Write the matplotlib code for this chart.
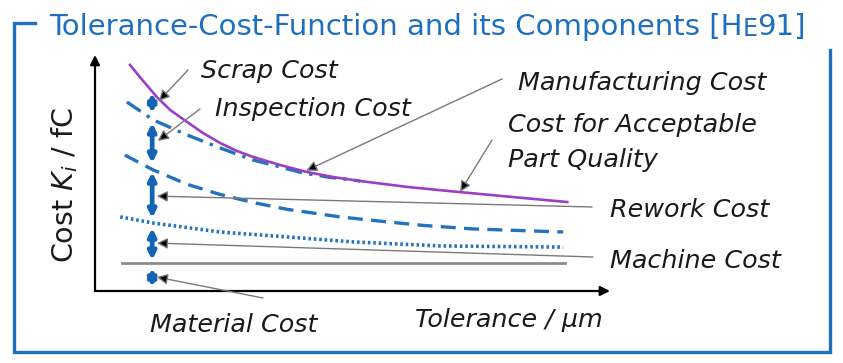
import numpy as np
import matplotlib
matplotlib.use("Agg")
import matplotlib.pyplot as plt

plt.rcParams['font.family'] = ['DejaVu Sans']
plt.rcParams['mathtext.fontset'] = 'dejavusans'

# schematic curves, tolerance (0-100) vs cost (0-100)
tol_manuf = [6.8, 8.7, 12.0, 14.6, 17.9, 21.0, 24.3, 27.6, 30.7, 35.9, 41.2,
             46.2, 51.5, 60.6, 70.9, 81.2, 91.7]
cost_manuf = [95.8, 90.7, 82.2, 76.7, 71.6, 66.9, 62.7, 59.3, 56.8, 53.4, 50.4,
              48.3, 46.6, 44.1, 41.9, 39.8, 37.7]

tol_quality = [6.2, 11.3, 17.9, 24.3, 30.7, 35.9, 40.4, 45.5, 51.5]
cost_quality = [80.1, 72.5, 66.1, 60.6, 55.5, 52.6, 50.0, 48.2, 46.6]

tol_rework = [5.8, 11.3, 17.9, 24.3, 30.7, 37.3, 47.6, 54.0, 63.7, 73.4, 90.9]
cost_rework = [57.6, 51.3, 45.2, 40.9, 37.5, 34.6, 31.4, 29.9, 27.8, 26.3, 25.0]

tol_machine = [4.9, 11.3, 24.3, 37.3, 50.1, 67.0, 90.9]
cost_machine = [31.4, 28.8, 25.0, 22.9, 20.8, 19.1, 18.6]

tol_material = [5.2, 91.3]
cost_material = [11.9, 11.9]

# component spans shown by the blue double arrows
comp_names = ['Scrap Cost', 'Inspection Cost', 'Rework Cost', 'Machine Cost', 'Material Cost']
comp_top = [83.9, 71.2, 50.4, 26.7, 9.7]
comp_bottom = [75.4, 54.2, 30.9, 13.1, 1.7]
comp_x = 11.1

BLUE = '#1f6fbf'
LINE_BLUE = '#2272bd'
ARROW_BLUE = '#1464b4'
PURPLE = '#9a3fc6'
GREY = '#7a7a7a'

fig = plt.figure(figsize=(8.43, 3.63), dpi=100)

# overlay axes in pixel units for frame and labels
ov = fig.add_axes([0, 0, 1, 1])
ov.set_xlim(0, 843)
ov.set_ylim(363, 0)
ov.axis('off')

# plot axes
W, H = 843, 363
ax = fig.add_axes([95 / W, (H - 291) / H, (610 - 95) / W, (291 - 55) / H])
ax.set_xlim(0, 100)
ax.set_ylim(0, 100)
ax.axis('off')
ax.patch.set_alpha(0)

# frame
ov.plot([35, 14, 14, 830, 830], [23, 23, 352, 352, 50], color=BLUE, lw=2.4,
        solid_joinstyle='miter')

# title with small-cap E
t1 = ov.text(49, 35, 'Tolerance-Cost-Function and its Components [H', color=BLUE,
             fontsize=21, va='baseline', ha='left')
t2 = ov.annotate('E', xy=(1, 0), xycoords=t1, color=BLUE, fontsize=17,
                 va='bottom', ha='left')
ov.annotate('91]', xy=(1, 0), xycoords=t2, color=BLUE, fontsize=21,
            va='bottom', ha='left')

# axes arrows
ax.annotate('', xy=(0, 100), xytext=(0, 0), annotation_clip=False,
            arrowprops=dict(arrowstyle='-|>', color='black', lw=1.6, mutation_scale=14,
                            shrinkA=0, shrinkB=0))
ax.annotate('', xy=(100, 0), xytext=(0, 0), annotation_clip=False,
            arrowprops=dict(arrowstyle='-|>', color='black', lw=1.6, mutation_scale=14,
                            shrinkA=0, shrinkB=0))

# curves
ax.plot(tol_material, cost_material, color='#8c8c8c', lw=2)
ax.plot(tol_machine, cost_machine, color=LINE_BLUE, lw=2.6, linestyle=(0, (0.7, 0.8)))
ax.plot(tol_rework, cost_rework, color=LINE_BLUE, lw=2.4, linestyle=(0, (4.5, 2.5)))
ax.plot(tol_quality, cost_quality, color=LINE_BLUE, lw=2.4, linestyle=(0, (5, 2.2, 1, 2.2)))
ax.plot(tol_manuf, cost_manuf, color=PURPLE, lw=1.9)

# component double arrows
for top, bot in zip(comp_top, comp_bottom):
    ax.annotate('', xy=(comp_x, top), xytext=(comp_x, bot),
                arrowprops=dict(arrowstyle='<|-|>', color=ARROW_BLUE, lw=3.4,
                                mutation_scale=11, shrinkA=0, shrinkB=0))

# labels with pointer lines
ann = dict(arrowstyle='-|>', fc='black', ec=GREY, lw=1, mutation_scale=16,
           shrinkA=0, shrinkB=0)
pointers = [
    # start of line (px), target in data coords
    ((188, 70), (12.4, 80.5)),
    ((200, 109), (12.2, 63.6)),
    ((502, 79), (41.0, 51.0)),
    ((492, 140), (70.9, 42.0)),
    ((592, 207), (12.0, 40.2)),
    ((593, 257), (12.0, 20.3)),
    ((263, 298), (12.0, 5.9)),
]
for start, target in pointers:
    ax.annotate('', xy=target, xycoords='data', xytext=start,
                textcoords=ov.transData, arrowprops=ann, annotation_clip=False)

lab = dict(fontsize=18.3, style='italic', va='baseline', ha='left', color='#1a1a1a')
ov.text(201, 78, 'Scrap Cost', **lab)
ov.text(215, 116, 'Inspection Cost', **lab)
ov.text(518, 90, 'Manufacturing Cost', **lab)
ov.text(508, 132, 'Cost for Acceptable', **lab)
ov.text(508, 167, 'Part Quality', **lab)
ov.text(610, 217, 'Rework Cost', **lab)
ov.text(610, 268, 'Machine Cost', **lab)
ov.text(150, 332, 'Material Cost', **lab)
ov.text(415, 327, 'Tolerance / µm', **lab)
ov.text(65, 185, r'Cost $K_i$ / fC', fontsize=20.5, rotation=90, va='center',
        ha='center', color='#1a1a1a')

fig.savefig('out.png', dpi=100)
